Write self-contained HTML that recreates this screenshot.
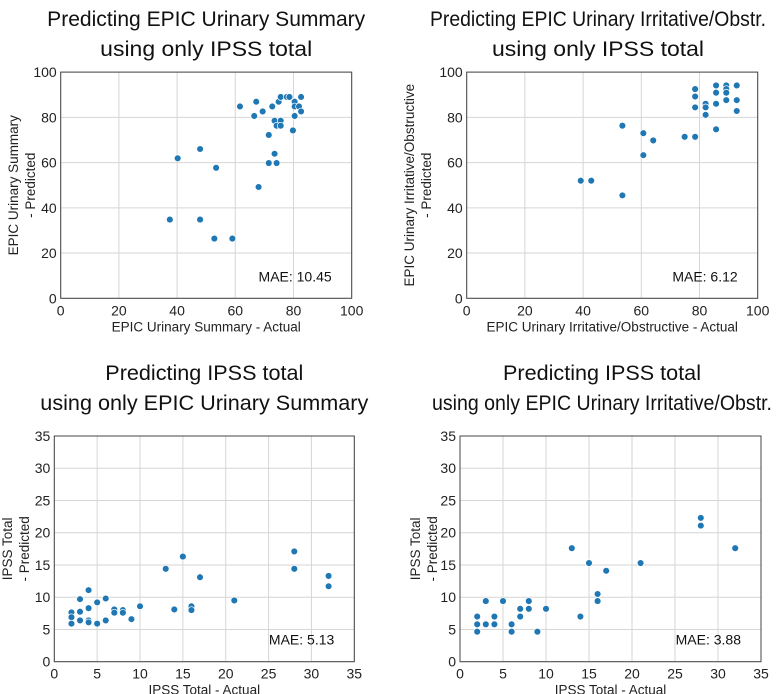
<!DOCTYPE html>
<html><head><meta charset="utf-8"><style>
body{margin:0;background:#fff;}
svg{display:block;font-family:"Liberation Sans","DejaVu Sans",sans-serif;}
</style></head><body>
<svg id="fig" width="777" height="694" viewBox="0 0 777 694" xmlns="http://www.w3.org/2000/svg"></svg>
<script>
const p1X=[61.6,67.2,66.5,69.4,72.7,74.9,75.6,77.7,78.6,82.6,80.4,80.4,81.9,82.6,80.4,73.5,75.6,74.2,75.6,79.8,71.5,73.5,71.5,74.2,68,47.9,40.2,53.4,37.5,47.9,52.8,59];
const p1Y=[84.8,86.9,80.6,82.6,84.8,86.9,89,89,89,89,86.9,84.8,84.8,82.6,80.6,78.5,78.5,76.3,76.3,74.2,72.2,63.9,59.8,59.8,49.2,66,61.9,57.7,34.8,34.8,26.4,26.4];
const p2X=[39.2,42.8,53.5,53.5,60.7,60.7,64.1,74.9,78.5,78.5,78.5,78.5,82.1,82.1,82.1,85.7,85.7,85.7,85.7,89.2,89.2,89.2,89.2,92.8,92.8,92.8];
const p2Y=[52,52,76.3,45.5,73,63.3,69.8,71.4,71.4,92.5,89.2,84.4,86,84.4,81.1,94.1,90.9,86,74.7,94.1,92.5,90.9,87.6,94.1,87.6,82.8];
const p3X=[2,2,2,3,3,3,4,4,4,4,5,5,6,6,7,7,8,8,9,10,13,14,15,16,16,17,21,28,28,32,32];
const p3Y=[7.65,6.9,5.9,9.7,7.75,6.4,11.1,8.3,6.4,6.1,9.2,5.9,9.8,6.4,8.1,7.6,8.0,7.6,6.6,8.6,14.4,8.1,16.3,8.6,8.0,13.1,9.5,17.1,14.4,13.3,11.7];
const p4X=[2,2,2,3,3,4,4,5,6,6,7,7,8,8,9,10,13,14,15,16,16,17,21,28,28,32];
const p4Y=[7.0,5.8,4.65,9.4,5.8,7.0,5.8,9.4,5.8,4.65,8.2,7.0,9.4,8.2,4.65,8.2,17.6,7.0,15.3,10.5,9.4,14.1,15.3,22.3,21.1,17.6];
const ticks100=[0,20,40,60,80,100];
const ticks35=[0,5,10,15,20,25,30,35];

const NS="http://www.w3.org/2000/svg";
const svg=document.getElementById('fig');
function el(tag,attrs,parent,text){const e=document.createElementNS(NS,tag);for(const k in attrs)e.setAttribute(k,attrs[k]);if(text!==undefined)e.textContent=text;(parent||svg).appendChild(e);return e;}

function panel(id,cfg){
  const g=el('g',{});
  
  
  const sx=v=>cfg.x0+(v-cfg.min)/(cfg.max-cfg.min)*(cfg.x1-cfg.x0);
  const sy=v=>cfg.y0-(v-cfg.min)/(cfg.max-cfg.min)*(cfg.y0-cfg.y1);
  cfg.ticks.forEach(t=>{
    const gx=el('line',{x1:sx(t),x2:sx(t),y1:cfg.y1,y2:cfg.y0,stroke:'#d6d6d6','stroke-width':1},g);
    
    
    const gy=el('line',{x1:cfg.x0,x2:cfg.x1,y1:sy(t),y2:sy(t),stroke:'#d6d6d6','stroke-width':1},g);
    
    
    const tx=el('text',{x:sx(t),y:cfg.y0+17,'text-anchor':'middle','font-size':14,fill:'#222'},g,String(t));
    
    
    const ty=el('text',{x:cfg.x0-4,y:sy(t)+5,'text-anchor':'end','font-size':14,fill:'#222'},g,String(t));
    
    
  });
  const fr=el('rect',{x:cfg.x0,y:cfg.y1,width:cfg.x1-cfg.x0,height:cfg.y0-cfg.y1,fill:'none',stroke:'#444','stroke-width':1},g);
  
  
  cfg.xs.forEach((v,i)=>{
    const c=el('circle',{cx:sx(v),cy:sy(cfg.ys[i]),r:3.4,fill:'#1f77b4',stroke:'#fff','stroke-width':0.7},g);
    
    
  });
  const cx=(cfg.x0+cfg.x1)/2;
  const tcx=cfg.tcx||cx;
  cfg.title.forEach((t,i)=>{
    const tt=el('text',{x:tcx,y:cfg.titleY+i*30,'text-anchor':'middle','font-size':21,fill:'#111',textLength:cfg.tw[i],lengthAdjust:'spacingAndGlyphs'},g,t);
    
    
  });
  const xl=el('text',{x:cx,y:cfg.y0+33,'text-anchor':'middle','font-size':13.5,fill:'#222'},g,cfg.xlab);
  
  
  const ymid=(cfg.y0+cfg.y1)/2;
  cfg.ylab.forEach((t,i)=>{
    const yl=el('text',{x:0,y:0,'text-anchor':'middle','font-size':13.5,fill:'#222',transform:`translate(${cfg.ylabX+i*17},${ymid}) rotate(-90)`},g,t);
    
    
  });
  const m=el('text',{x:cfg.x1-20,y:cfg.y0-17,'text-anchor':'end','font-size':14,fill:'#111'},g,cfg.mae);
  
  
}

panel('summary-pred',{x0:60.7,x1:351.7,y0:298.3,y1:72.1,min:0,max:100,ticks:ticks100,xs:p1X,ys:p1Y,
  title:['Predicting EPIC Urinary Summary','using only IPSS total'],tw:[318,212],titleY:26,xlab:'EPIC Urinary Summary - Actual',
  ylab:['EPIC Urinary Summary','- Predicted'],ylabX:18,mae:'MAE: 10.45'});
panel('irritative-pred',{x0:466.7,x1:757.7,y0:298.3,y1:72.1,min:0,max:100,ticks:ticks100,xs:p2X,ys:p2Y,tcx:598,
  title:['Predicting EPIC Urinary Irritative/Obstr.','using only IPSS total'],tw:[336,212],titleY:26,xlab:'EPIC Urinary Irritative/Obstructive - Actual',
  ylab:['EPIC Urinary Irritative/Obstructive','- Predicted'],ylabX:414,mae:'MAE: 6.12'});
panel('ipss-from-summary',{x0:54.3,x1:354.3,y0:661.7,y1:436,min:0,max:35,ticks:ticks35,xs:p3X,ys:p3Y,
  title:['Predicting IPSS total','using only EPIC Urinary Summary'],tw:[198,328],titleY:380,xlab:'IPSS Total - Actual',
  ylab:['IPSS Total','- Predicted'],ylabX:12,mae:'MAE: 5.13'});
panel('ipss-from-irritative',{x0:460,x1:761,y0:661.7,y1:436,min:0,max:35,ticks:ticks35,xs:p4X,ys:p4Y,tcx:602,
  title:['Predicting IPSS total','using only EPIC Urinary Irritative/Obstr.'],tw:[198,340],titleY:380,xlab:'IPSS Total - Actual',
  ylab:['IPSS Total','- Predicted'],ylabX:420,mae:'MAE: 3.88'});
</script>
</body></html>
